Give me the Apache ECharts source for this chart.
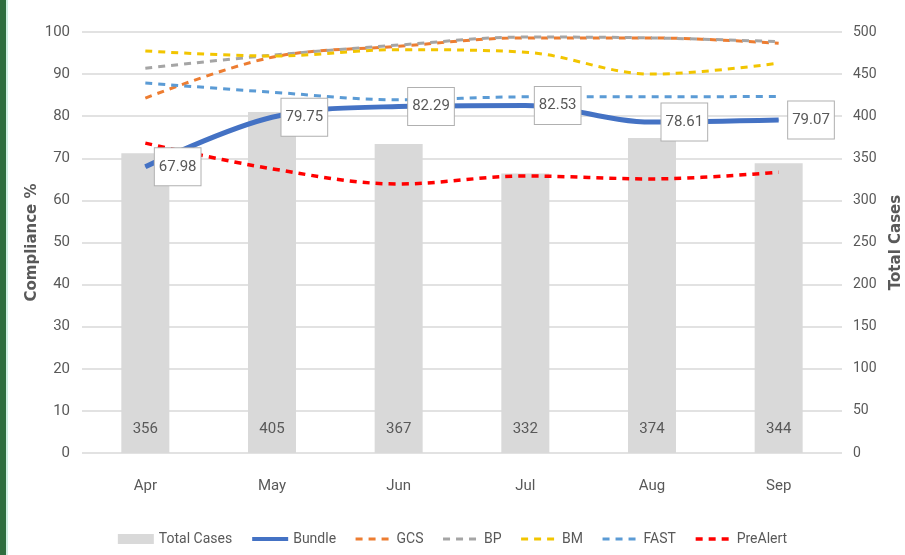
<!DOCTYPE html>
<html>
<head>
<meta charset="utf-8">
<script src="https://cdn.jsdelivr.net/npm/echarts@6/dist/echarts.min.js"></script>
<style>
  html, body { margin: 0; padding: 0; background: #ffffff; }
  #chart { width: 905px; height: 555px; }
</style>
</head>
<body>
<div id="chart"></div>
<script>
// Monthly compliance and case volume
const months = ['Apr', 'May', 'Jun', 'Jul', 'Aug', 'Sep'];
const totalCases = [356, 405, 367, 332, 374, 344];
const bundle = [67.98, 79.75, 82.29, 82.53, 78.61, 79.07];
const gcs = [84.3, 94.0, 96.6, 98.6, 98.6, 97.3];
const bp = [91.4, 94.5, 96.9, 98.8, 98.6, 97.7];
const bm = [95.5, 94.3, 95.8, 95.2, 90.0, 92.6];
const fast = [87.9, 85.7, 83.9, 84.6, 84.6, 84.7];
const preAlert = [73.6, 67.5, 63.9, 65.8, 65.1, 66.7];
const leftTicks = [0, 100, 10];
const rightTicks = [0, 500, 50];

const FONT = "'Liberation Sans Narrow', 'Roboto', sans-serif";
const TXT = '#595959';

function dashed(name, data, color, width) {
  return {
    name, type: 'line', data, yAxisIndex: 0, smooth: 0.35,
    symbol: 'none', z: 3,
    lineStyle: { color, width: width || 3, type: [7, 6] },
    itemStyle: { color }
  };
}

// legend entries for lines: no marker dot, thicker stroke
function lineEntry(name, width) {
  return { name, itemStyle: { opacity: 0 }, lineStyle: { width } };
}

const chart = echarts.init(document.getElementById('chart'));
chart.setOption({
  animation: false,
  backgroundColor: '#ffffff',
  textStyle: { fontFamily: FONT },
  graphic: [
    { type: 'rect', shape: { x: 0, y: 0, width: 6, height: 555 }, style: { fill: '#2f6d3f' } },
    { type: 'rect', shape: { x: 6, y: 0, width: 2, height: 555 }, style: { fill: '#cfeee2' } }
  ],
  grid: { left: 82, right: 63, top: 32, bottom: 102, containLabel: false, outerBoundsMode: 'none' },
  legend: {
    bottom: 4, left: 'center', itemGap: 18, itemWidth: 36, itemHeight: 10,
    textStyle: { color: TXT, fontSize: 14, fontFamily: FONT },
    data: [
      { name: 'Total Cases', icon: 'rect' },
      lineEntry('Bundle', 4),
      lineEntry('GCS', 3),
      lineEntry('BP', 3),
      lineEntry('BM', 3),
      lineEntry('FAST', 3),
      lineEntry('PreAlert', 3.5)
    ]
  },
  xAxis: {
    type: 'category', data: months,
    axisLine: { show: false }, axisTick: { show: false },
    axisLabel: { color: TXT, fontSize: 15, margin: 26, fontFamily: FONT }
  },
  yAxis: [
    {
      type: 'value', min: leftTicks[0], max: leftTicks[1], interval: leftTicks[2],
      name: 'Compliance %', nameLocation: 'middle', nameGap: 42, nameRotate: 90,
      nameMoveOverlap: false,
      nameTextStyle: { color: TXT, fontSize: 15, fontWeight: 'bold', fontFamily: 'DejaVu Sans, sans-serif' },
      axisLine: { show: false }, axisTick: { show: false },
      axisLabel: { color: TXT, fontSize: 15, margin: 12, fontFamily: FONT },
      splitLine: { lineStyle: { color: '#d9d9d9', width: 1.5 } }
    },
    {
      type: 'value', min: rightTicks[0], max: rightTicks[1], interval: rightTicks[2],
      name: 'Total Cases', nameLocation: 'middle', nameGap: 47, nameRotate: 90,
      nameMoveOverlap: false,
      nameTextStyle: { color: TXT, fontSize: 15, fontWeight: 'bold', fontFamily: 'DejaVu Sans, sans-serif' },
      axisLine: { show: false }, axisTick: { show: false },
      axisLabel: { color: TXT, fontSize: 14, margin: 11, fontFamily: FONT },
      splitLine: { show: false }
    }
  ],
  series: [
    {
      name: 'Total Cases', type: 'bar', data: totalCases, yAxisIndex: 1,
      barWidth: 48, z: 1,
      itemStyle: { color: '#d9d9d9' },
      label: {
        show: true, position: 'insideBottom', distance: 16,
        color: TXT, fontSize: 15, fontFamily: FONT
      }
    },
    dashed('GCS', gcs, '#ed7d31'),
    dashed('BP', bp, '#a5a5a5'),
    dashed('BM', bm, '#f2c500'),
    dashed('FAST', fast, '#5b9bd5'),
    dashed('PreAlert', preAlert, '#ff0000', 3.5),
    {
      name: 'Bundle', type: 'line', data: bundle, yAxisIndex: 0, smooth: 0.35,
      symbol: 'circle', symbolSize: 1, showSymbol: true, z: 5,
      lineStyle: { color: '#4472c4', width: 5 },
      itemStyle: { color: '#4472c4' },
      label: {
        show: true, position: 'right', distance: 9,
        color: TXT, fontSize: 15, fontFamily: FONT,
        backgroundColor: '#ffffff', borderColor: '#b0b0b0', borderWidth: 1,
        padding: [11, 4]
      }
    }
  ]
});
</script>
</body>
</html>
